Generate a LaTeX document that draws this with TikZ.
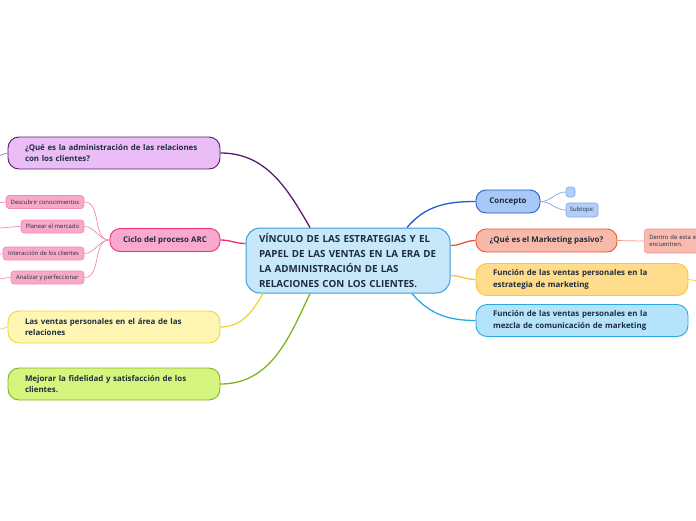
\documentclass[tikz,border=0pt]{standalone}
\usepackage{fontspec}
\setmainfont{Open Sans}
\usepackage{tikz}
\usetikzlibrary{arrows.meta,positioning}

\definecolor{inkc}{HTML}{1E2D3D}
\definecolor{titlefill}{HTML}{C6E8FA}\definecolor{titleline}{HTML}{3C9BD8}
\definecolor{purfill}{HTML}{EBBDF7}\definecolor{purline}{HTML}{5A1A6B}
\definecolor{arcfill}{HTML}{F9A9CB}\definecolor{arcline}{HTML}{E8307C}
\definecolor{pinkfill}{HTML}{F8A9C8}\definecolor{pinkline}{HTML}{F28AB5}
\definecolor{yelfill}{HTML}{FFF6B3}\definecolor{yelline}{HTML}{EDD53A}
\definecolor{grnfill}{HTML}{D5F57F}\definecolor{grnline}{HTML}{7DB51F}
\definecolor{confill}{HTML}{A8C8F7}\definecolor{conline}{HTML}{1F5FC8}
\definecolor{subfill}{HTML}{B4CEF7}\definecolor{subline}{HTML}{7EA5EB}
\definecolor{pasfill}{HTML}{F7BAA8}\definecolor{pasline}{HTML}{E9573B}
\definecolor{salfill}{HTML}{F9BBAF}\definecolor{salline}{HTML}{F2968A}
\definecolor{estfill}{HTML}{FEDC8C}\definecolor{estline}{HTML}{F8C63C}
\definecolor{mezfill}{HTML}{B4E3FB}\definecolor{mezline}{HTML}{2BA7E1}

\tikzset{
  central/.style={draw=titleline,fill=titlefill,line width=1pt,rounded corners=14pt,
    minimum width=204pt,minimum height=65pt,inner xsep=13pt,text width=178pt,align=left,
    font=\fontsize{9.8}{15}\selectfont\bfseries,text=inkc},
  topic/.style={line width=0.9pt,rounded corners=11pt,minimum width=212pt,minimum height=32pt,
    inner xsep=17pt,text width=178pt,align=left,
    font=\fontsize{7.9}{11.5}\selectfont\bfseries,text=inkc},
  smalltopic/.style={line width=0.9pt,rounded corners=10pt,minimum height=23pt,inner xsep=2pt,
    align=center,font=\fontsize{7.9}{11}\selectfont\bfseries,text=inkc},
  leafbox/.style={line width=0.6pt,rounded corners=3pt,minimum height=13pt,inner sep=1pt,
    align=center,font=\fontsize{5.9}{7.5}\selectfont,text=inkc},
  branch/.style={line width=1.3pt},
  twig/.style={line width=0.7pt}
}

\begin{document}
\begin{tikzpicture}[x=1pt,y=-1pt]
\useasboundingbox (0,0) rectangle (696,520);
\clip (0,0) rectangle (696,520);

% central topic
\node[central] (title) at (348,260.5) {V\'INCULO DE LAS ESTRATEGIAS Y EL\\PAPEL DE LAS VENTAS EN LA ERA DE\\LA ADMINISTRACI\'ON DE LAS\\RELACIONES CON LOS CLIENTES.};

% left side
\node[topic,draw=purline,fill=purfill] (qadm) at (114,153) {¿Qué es la administración de las relaciones\\con los clientes?};
\node[smalltopic,draw=arcline,fill=arcfill,minimum width=110pt] (arc) at (165,240) {Ciclo del proceso ARC};
\node[topic,draw=yelline,fill=yelfill] (relac) at (114,327) {Las ventas personales en el área de las\\relaciones};
\node[topic,draw=grnline,fill=grnfill] (fidel) at (114,384) {Mejorar la fidelidad y satisfacción de los\\clientes.};

\node[leafbox,draw=pinkline,fill=pinkfill,minimum width=78pt] (descub) at (45,202) {Descubrir conocimientos};
\node[leafbox,draw=pinkline,fill=pinkfill,minimum width=63pt] (planear) at (52.5,226.5) {Planear el mercado};
\node[leafbox,draw=pinkline,fill=pinkfill,minimum width=81pt] (interac) at (43.5,253.5) {Interacción de los clientes};
\node[leafbox,draw=pinkline,fill=pinkfill,minimum width=73pt] (analiz) at (47.5,277.5) {Analizar y perfeccionar};

% right side
\node[smalltopic,draw=conline,fill=confill,minimum width=64pt] (concepto) at (508,201.5) {Concepto};
\node[leafbox,draw=subline,fill=subfill,minimum width=9pt,minimum height=10pt] (blank) at (570.5,192) {};
\node[leafbox,draw=subline,fill=subfill,minimum width=32pt,minimum height=14pt] (subtopic) at (582,210) {Subtopic};
\node[smalltopic,draw=pasline,fill=pasfill,minimum width=141pt] (pasivo) at (546.5,240.5) {¿Qué es el Marketing pasivo?};
\node[leafbox,draw=salline,fill=salfill,minimum width=90pt,minimum height=24pt,anchor=west,
  inner xsep=5pt,text width=80pt,align=left] (dentro) at (644,241) {Dentro de esta e\\encuentren.};
\node[topic,draw=estline,fill=estfill] (estrat) at (582,279.5) {Función de las ventas personales en la\\estrategia de marketing};
\node[topic,draw=mezline,fill=mezfill] (mezcla) at (582,320.5) {Función de las ventas personales en la\\mezcla de comunicación de marketing};

% branches from the centre
\draw[branch,purline] ([xshift=-38pt]title.north) to[out=120,in=0] (qadm.east);
\draw[branch,arcline] ([yshift=17pt]title.west) to[out=180,in=0] (arc.east);
\draw[branch,yelline] ([xshift=-85pt]title.south) to[out=-120,in=0] (relac.east);
\draw[branch,grnline] ([xshift=-38pt]title.south) to[out=-115,in=0] (fidel.east);
\draw[branch,conline] ([xshift=59pt]title.north) to[out=50,in=180] (concepto.west);
\draw[branch,pasline] ([yshift=15pt]title.east) to[out=0,in=180] (pasivo.west);
\draw[branch,estline] ([yshift=-15pt]title.east) to[out=0,in=180] (estrat.west);
\draw[branch,mezline] ([xshift=64pt]title.south) to[out=-50,in=180] (mezcla.west);

% sub branches
\foreach \leaf in {descub,planear,interac,analiz}
  \draw[twig,pinkline] (arc.west) to[out=180,in=0] (\leaf.east);
\draw[twig,subline] (concepto.east) to[out=0,in=180] (blank.west);
\draw[twig,subline] (concepto.east) to[out=0,in=180] (subtopic.west);
\draw[twig,salline] (pasivo.east) -- (dentro.west);

% stubs running off the page
\coordinate (qadmend) at (-2,156);
\coordinate (relacend) at (-2,330);
\coordinate (estratend) at (698,281);
\draw[twig,purline!60] (qadm.west) to[out=180,in=0] (qadmend);
\draw[twig,yelline] (relac.west) to[out=180,in=0] (relacend);
\draw[twig,estline] (estrat.east) to[out=0,in=180] (estratend);
\foreach \leaf/\ty in {descub/203,planear/228,interac/255,analiz/279}{
  \coordinate (\leaf end) at (-2,\ty);
  \draw[twig,pinkline] (\leaf.west) to[out=180,in=0] (\leaf end);
}
\end{tikzpicture}
\end{document}
